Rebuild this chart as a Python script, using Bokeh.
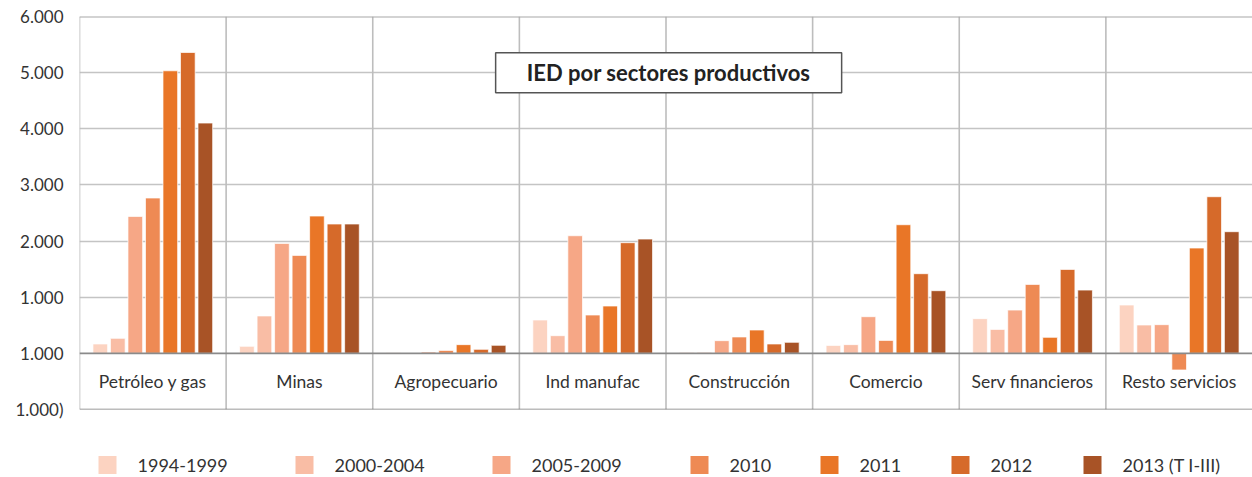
import numpy as np
from bokeh.plotting import figure
from bokeh.layouts import column
from bokeh.models import Range1d, FixedTicker, Span, ColumnDataSource
from bokeh.core.properties import value
from bokeh.embed import file_html
from bokeh.resources import INLINE

# ---- data ----
categories = ["Petróleo y gas", "Minas", "Agropecuario", "Ind manufac",
              "Construcción", "Comercio", "Serv financieros", "Resto servicios"]
series_names = ["1994-1999", "2000-2004", "2005-2009", "2010", "2011", "2012", "2013 (T I-III)"]
s1994_1999 = [167, 125, 12, 594, 18, 142, 618, 861]
s2000_2004 = [267, 666, 3, 315, 18, 155, 427, 505]
s2005_2009 = [2439, 1958, 25, 2095, 226, 653, 771, 511]
s2010 = [2767, 1745, 53, 683, 292, 231, 1228, -296]
s2011 = [5033, 2446, 155, 843, 416, 2291, 285, 1876]
s2012 = [5359, 2304, 71, 1971, 167, 1419, 1495, 2790]
s2013 = [4102, 2304, 143, 2036, 196, 1116, 1127, 2167]
series_values = [s1994_1999, s2000_2004, s2005_2009, s2010, s2011, s2012, s2013]
y_ticks = [-1000, 0, 1000, 2000, 3000, 4000, 5000, 6000]
y_tick_labels = ["1.000)", "1.000", "1.000", "2.000", "3.000", "4.000", "5.000", "6.000"]
title_text = "IED por sectores productivos"

colors = ["#FCD3C1", "#F9BDA5", "#F6A786", "#EE8A54", "#E97627", "#D66A2A", "#A85326"]
FONT = "Lato"
TXT = "#333333"

n = len(categories)
idx = np.arange(n)

p = figure(width=1252, height=430, output_backend="svg", toolbar_location=None,
           x_range=Range1d(0, n), y_range=Range1d(-1000, 6000),
           x_axis_location=None, min_border_left=79, min_border_right=0,
           min_border_top=16, min_border_bottom=21)
p.outline_line_color = None
p.background_fill_color = "white"
p.border_fill_color = "white"

# y axis
p.yaxis.ticker = FixedTicker(ticks=y_ticks)
p.yaxis.major_label_overrides = {t: l for t, l in zip(y_ticks, y_tick_labels)}
p.yaxis.axis_line_color = None
p.yaxis.major_tick_line_color = None
p.yaxis.minor_tick_line_color = None
p.yaxis.major_tick_out = 0
p.yaxis.major_label_standoff = 16
p.yaxis.major_label_text_font = FONT
p.yaxis.major_label_text_font_size = "17px"
p.yaxis.major_label_text_color = TXT

p.xgrid.visible = False
p.ygrid.ticker = FixedTicker(ticks=[1000, 2000, 3000, 4000, 5000])
p.ygrid.grid_line_color = "#C4C4C4"
p.ygrid.grid_line_width = 1.6

# vertical separators at category boundaries
sep = ColumnDataSource(dict(x=idx.astype(float)))
p.segment(x0="x", y0=-1000, x1="x", y1=6000, source=sep,
          line_color="#BDBDBD", line_width=1.6)

# borders
p.add_layout(Span(location=6000, dimension="width", line_color="#A8A8A8", line_width=2))
p.add_layout(Span(location=-1000, dimension="width", line_color="#7A7A7A", line_width=1.6))

# bars
spacing = 0.1194
bw = 0.1
for k, (name, vals) in enumerate(zip(series_names, series_values)):
    src = ColumnDataSource(dict(x=idx + 0.5 + (k - 3) * spacing, top=vals))
    p.vbar(x="x", top="top", bottom=0, width=bw, source=src,
           fill_color=colors[k], line_color="white", line_width=1, line_alpha=0.7)

# zero line
p.add_layout(Span(location=0, dimension="width", line_color="#8A8A8A", line_width=1.6))

# category labels
lab = ColumnDataSource(dict(x=idx + 0.5, y=[-500] * n, t=categories))
p.text(x="x", y="y", text="t", source=lab, text_font=value(FONT),
       text_font_size="17.5px", text_color=TXT, text_align="center", text_baseline="middle")

# title box
p.rect(x=[4.018], y=[5000], width=346, height=40, width_units="screen",
       height_units="screen", fill_color="white", line_color="#555555", line_width=1.5)
p.text(x=[4.018], y=[5000], text=[title_text], text_font=value(FONT),
       text_font_size="22px", text_font_style="bold", text_color="#222222",
       text_align="center", text_baseline="middle")

# legend figure (its frame is aligned with the main frame, which starts at x=79)
lg = figure(width=1252, height=47, output_backend="svg", toolbar_location=None,
            x_range=Range1d(79, 1252), y_range=Range1d(47, 0),
            x_axis_location=None, y_axis_location=None,
            min_border=0, min_border_left=79, min_border_right=0,
            min_border_top=0, min_border_bottom=0)
lg.outline_line_color = None
lg.grid.visible = False
sq_left = [98, 295, 492, 690, 820, 951, 1083]
lsrc = ColumnDataSource(dict(x=[v + 9 for v in sq_left], y=[34.5] * 7, c=colors,
                             tx=[v + 39 for v in sq_left], t=series_names))
lg.rect(x="x", y="y", width=18, height=18, width_units="screen", height_units="screen",
        fill_color="c", line_color=None, source=lsrc)
lg.text(x="tx", y="y", text="t", source=lsrc, text_font=value(FONT),
        text_font_size="18px", text_color=TXT, text_baseline="middle", text_align="left")

layout = column(p, lg, spacing=0)
open("out.html", "w").write(file_html(layout, INLINE))
